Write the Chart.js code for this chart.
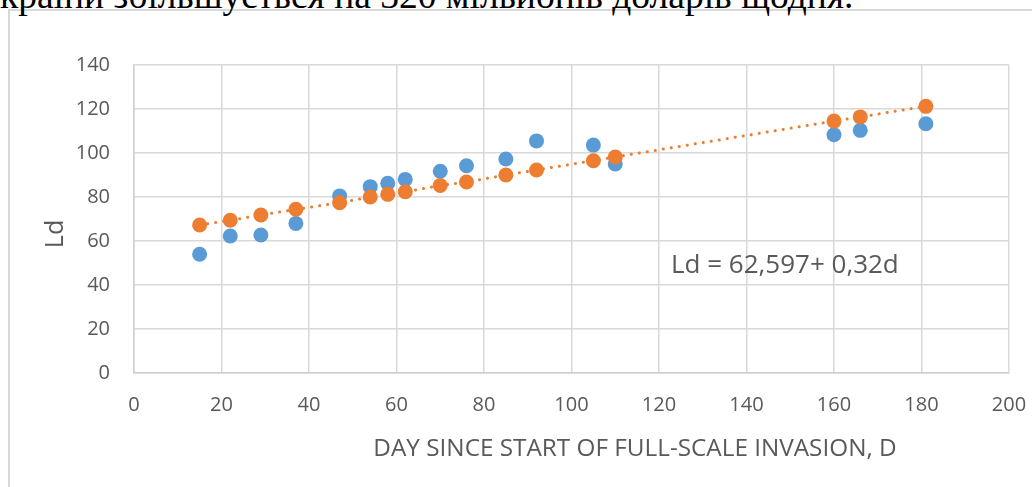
<!DOCTYPE html>
<html>
<head>
<meta charset="utf-8">
<script src="https://cdn.jsdelivr.net/npm/chart.js@4.4.1/dist/chart.umd.min.js"></script>
<style>
  body { margin: 0; background: #fff; overflow: hidden; }
  #page { position: relative; width: 1032px; height: 487px; overflow: hidden; }
  #caption {
    position: absolute; left: 0; top: -23px;
    font: 37.5px "Liberation Serif", serif; line-height: 37.5px;
    color: #000; white-space: nowrap;
  }
  #frame {
    position: absolute; left: 8px; top: 9px; width: 1200px; height: 600px;
    border-left: 2px solid #d9d9d9; border-top: 2px solid #d9d9d9;
  }
  #wrap { position: absolute; left: 0; top: 0; width: 1032px; height: 487px; }
</style>
</head>
<body>
<div id="page">
  <div id="frame"></div>
  <div id="caption">країни збільшується на 320 мільйонів доларів щодня.</div>
  <div id="wrap"><canvas id="chart"></canvas></div>
</div>
<script>
// days since start of invasion
const days = [15, 22, 29, 37, 47, 54, 58, 62, 70, 76, 85, 92, 105, 110, 160, 166, 181]
// observed Ld (blue)
const ldObserved = [54.0, 62.3, 62.7, 68.0, 80.5, 84.7, 86.2, 88.0, 91.7, 94.2, 97.3, 105.5, 103.6, 95.0, 108.3, 110.3, 113.3]
// fitted Ld (orange)
const ldFitted = [67.3, 69.4, 71.8, 74.4, 77.4, 80.0, 81.2, 82.4, 85.2, 86.8, 90.0, 92.3, 96.5, 98.2, 114.5, 116.4, 121.2]

const xTitle = "DAY SINCE START OF FULL-SCALE INVASION, D"
const yTitle = "Ld"
const equation = "Ld = 62,597+ 0,32d"

const FONT = '"Open Sans", sans-serif'
const GREY = '#595959'

function toPoints(xs, ys) {
    return xs.map((x, i) => ({ x: x, y: ys[i] }))
}

// axis titles and the equation label
const labelsPlugin = {
    id: 'labels',
    afterDraw(chart) {
        const ctx = chart.ctx
        const area = chart.chartArea
        ctx.save()
        ctx.fillStyle = GREY

        ctx.font = '26px ' + FONT
        ctx.textAlign = 'left'
        ctx.textBaseline = 'alphabetic'
        ctx.fillText(equation, area.left + 537, area.bottom - 100)

        ctx.font = '24.3px ' + FONT
        ctx.textAlign = 'center'
        ctx.fillText(xTitle, 635, 456)

        ctx.translate(63, 234)
        ctx.rotate(-Math.PI / 2)
        ctx.font = '25px ' + FONT
        ctx.fillText(yTitle, 0, 0)
        ctx.restore()
    }
}

new Chart(document.getElementById('chart'), {
    type: 'scatter',
    data: {
        datasets: [
            {
                label: 'Ld',
                data: toPoints(days, ldObserved),
                backgroundColor: '#5B9BD5',
                borderWidth: 0,
                pointRadius: 7.5,
                order: 1
            },
            {
                label: 'Ld fit',
                data: toPoints(days, ldFitted),
                backgroundColor: '#ED7D31',
                borderColor: '#ED7D31',
                borderWidth: 3,
                borderDash: [0.1, 8],
                borderCapStyle: 'round',
                showLine: true,
                pointBorderWidth: 0,
                pointRadius: 7.5,
                order: 0
            }
        ]
    },
    options: {
        responsive: true,
        maintainAspectRatio: false,
        animation: false,
        layout: { padding: { top: 65, right: 23, left: 0, bottom: 0 } },
        plugins: {
            legend: { display: false },
            tooltip: { enabled: false }
        },
        scales: {
            x: {
                type: 'linear',
                min: 0, max: 200,
                afterFit(scale) {
                    scale.height = 114
                    // layout padding already leaves room for the end labels
                    scale.paddingLeft = 0
                    scale.paddingRight = 0
                },
                ticks: { stepSize: 20, color: GREY, font: { family: FONT, size: 20 }, padding: 20, maxRotation: 0 },
                grid: { color: '#d9d9d9', lineWidth: 1.5, drawTicks: false },
                border: { color: '#d0d0d0', width: 1.5 }
            },
            y: {
                min: 0, max: 140,
                afterFit(scale) { scale.width = 134 },
                ticks: { stepSize: 20, color: GREY, font: { family: FONT, size: 20 }, padding: 24 },
                grid: { color: '#d9d9d9', lineWidth: 1.5, drawTicks: false },
                border: { color: '#d0d0d0', width: 1.5 }
            }
        }
    },
    plugins: [labelsPlugin]
})
</script>
</body>
</html>
